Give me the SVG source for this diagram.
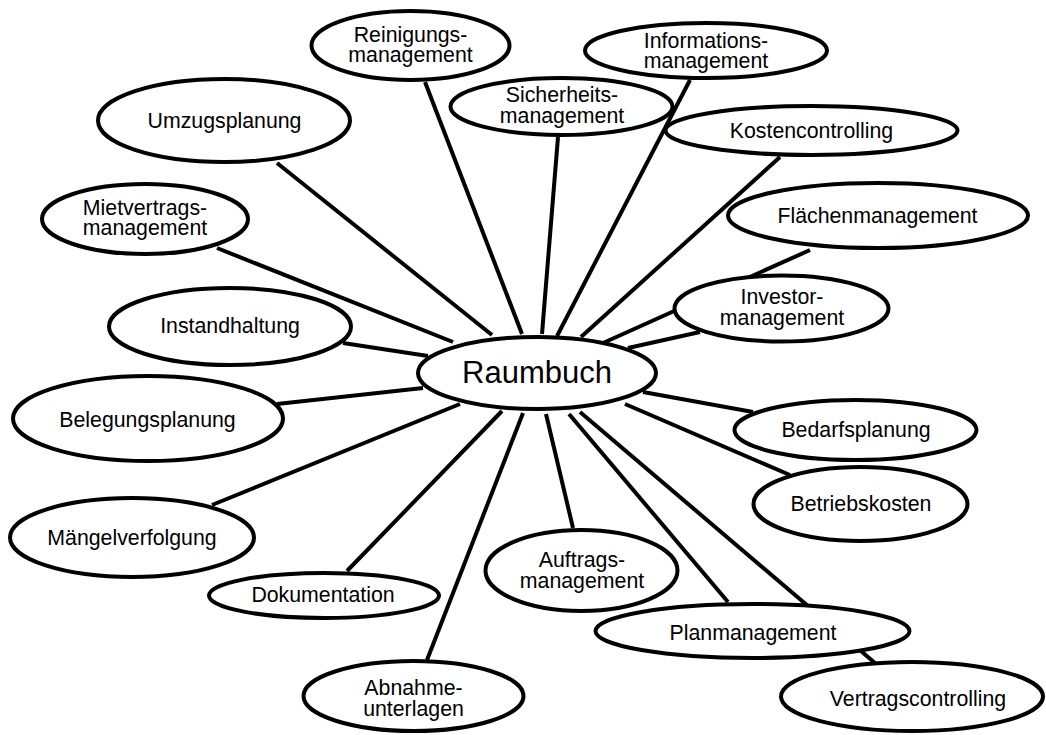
<svg xmlns="http://www.w3.org/2000/svg" width="1046" height="735" viewBox="0 0 1046 735">
  <style>
    .link { stroke: #000; stroke-width: 4; fill: none; stroke-linecap: butt; }
    .node ellipse { fill: #fff; stroke: #000; stroke-width: 4; }
    .node text { font-family: "Liberation Sans", Arial, sans-serif; font-size: 21.3px; fill: #000; text-anchor: middle; }
    #raumbuch text { font-size: 31px; }
  </style>
  <rect width="1046" height="735" fill="#fff"/>

  <!-- spokes from the central Raumbuch node -->
  <g id="connectors">
    <line class="link" x1="277" y1="163" x2="492" y2="335"/>
    <line class="link" x1="425" y1="82" x2="522" y2="334"/>
    <line class="link" x1="558" y1="137" x2="542" y2="334"/>
    <line class="link" x1="690" y1="80" x2="557" y2="336"/>
    <line class="link" x1="780" y1="157" x2="581" y2="337"/>
    <line class="link" x1="810" y1="250" x2="603" y2="343"/>
    <line class="link" x1="700" y1="332" x2="628" y2="348"/>
    <line class="link" x1="217" y1="248" x2="453" y2="342"/>
    <line class="link" x1="343" y1="343" x2="428" y2="356"/>
    <line class="link" x1="277" y1="404" x2="423" y2="388"/>
    <line class="link" x1="212" y1="505" x2="460" y2="404"/>
    <line class="link" x1="347" y1="571" x2="502" y2="411"/>
    <line class="link" x1="427" y1="660" x2="523" y2="413"/>
    <line class="link" x1="573" y1="528" x2="546" y2="414"/>
    <line class="link" x1="728" y1="602" x2="569" y2="414"/>
    <line class="link" x1="875" y1="663" x2="580" y2="412"/>
    <line class="link" x1="753" y1="412" x2="643" y2="392"/>
    <line class="link" x1="790" y1="475" x2="625" y2="404"/>
  </g>

  <g id="raumbuch" class="node">
    <ellipse cx="537" cy="373" rx="119" ry="36"/>
    <text x="537" y="383">Raumbuch</text>
  </g>

  <g id="umzugsplanung" class="node">
    <ellipse cx="224" cy="120.5" rx="126" ry="41.5"/>
    <text x="224.5" y="128">Umzugsplanung</text>
  </g>

  <g id="reinigungsmanagement" class="node">
    <ellipse cx="410.5" cy="45.5" rx="99" ry="34.5"/>
    <text x="410.5" y="42">Reinigungs-<tspan x="410.5" dy="20">management</tspan></text>
  </g>

  <g id="sicherheitsmanagement" class="node">
    <ellipse cx="561.5" cy="106.5" rx="111" ry="28.5"/>
    <text x="562" y="102">Sicherheits-<tspan x="562" dy="21">management</tspan></text>
  </g>

  <g id="informationsmanagement" class="node">
    <ellipse cx="706" cy="50.5" rx="121" ry="27.5"/>
    <text x="706" y="48">Informations-<tspan x="706" dy="20">management</tspan></text>
  </g>

  <g id="kostencontrolling" class="node">
    <ellipse cx="811.5" cy="130.5" rx="146" ry="24.5"/>
    <text x="811.5" y="138">Kostencontrolling</text>
  </g>

  <g id="flaechenmanagement" class="node">
    <ellipse cx="878" cy="215.5" rx="150" ry="32.5"/>
    <text x="877.5" y="223">Flächenmanagement</text>
  </g>

  <g id="investormanagement" class="node">
    <ellipse cx="781.5" cy="308.5" rx="107" ry="33"/>
    <text x="782" y="304">Investor-<tspan x="782" dy="21">management</tspan></text>
  </g>

  <g id="mietvertragsmanagement" class="node">
    <ellipse cx="145" cy="219" rx="103" ry="35"/>
    <text x="145" y="215">Mietvertrags-<tspan x="145" dy="20">management</tspan></text>
  </g>

  <g id="instandhaltung" class="node">
    <ellipse cx="230" cy="326.5" rx="121" ry="38.5"/>
    <text x="230" y="333">Instandhaltung</text>
  </g>

  <g id="belegungsplanung" class="node">
    <ellipse cx="148" cy="418.5" rx="135" ry="42.5"/>
    <text x="147.5" y="427">Belegungsplanung</text>
  </g>

  <g id="maengelverfolgung" class="node">
    <ellipse cx="132" cy="537.5" rx="122" ry="39.5"/>
    <text x="132" y="545">Mängelverfolgung</text>
  </g>

  <g id="dokumentation" class="node">
    <ellipse cx="324" cy="595.5" rx="115" ry="22.5"/>
    <text x="323" y="602">Dokumentation</text>
  </g>

  <g id="abnahmeunterlagen" class="node">
    <ellipse cx="413.5" cy="696" rx="110" ry="35"/>
    <text x="413.5" y="695">Abnahme-<tspan x="413.5" dy="21">unterlagen</tspan></text>
  </g>

  <g id="auftragsmanagement" class="node">
    <ellipse cx="581.5" cy="570.5" rx="96" ry="40.5"/>
    <text x="582" y="567">Auftrags-<tspan x="582" dy="21">management</tspan></text>
  </g>

  <g id="planmanagement" class="node">
    <ellipse cx="752.5" cy="631" rx="157" ry="27"/>
    <text x="753" y="640">Planmanagement</text>
  </g>

  <g id="vertragscontrolling" class="node">
    <ellipse cx="912" cy="696.5" rx="131" ry="34.5"/>
    <text x="918" y="706">Vertragscontrolling</text>
  </g>

  <g id="bedarfsplanung" class="node">
    <ellipse cx="855.5" cy="430" rx="121" ry="30"/>
    <text x="856" y="437">Bedarfsplanung</text>
  </g>

  <g id="betriebskosten" class="node">
    <ellipse cx="860.5" cy="504" rx="107" ry="37"/>
    <text x="861" y="511">Betriebskosten</text>
  </g>
</svg>
